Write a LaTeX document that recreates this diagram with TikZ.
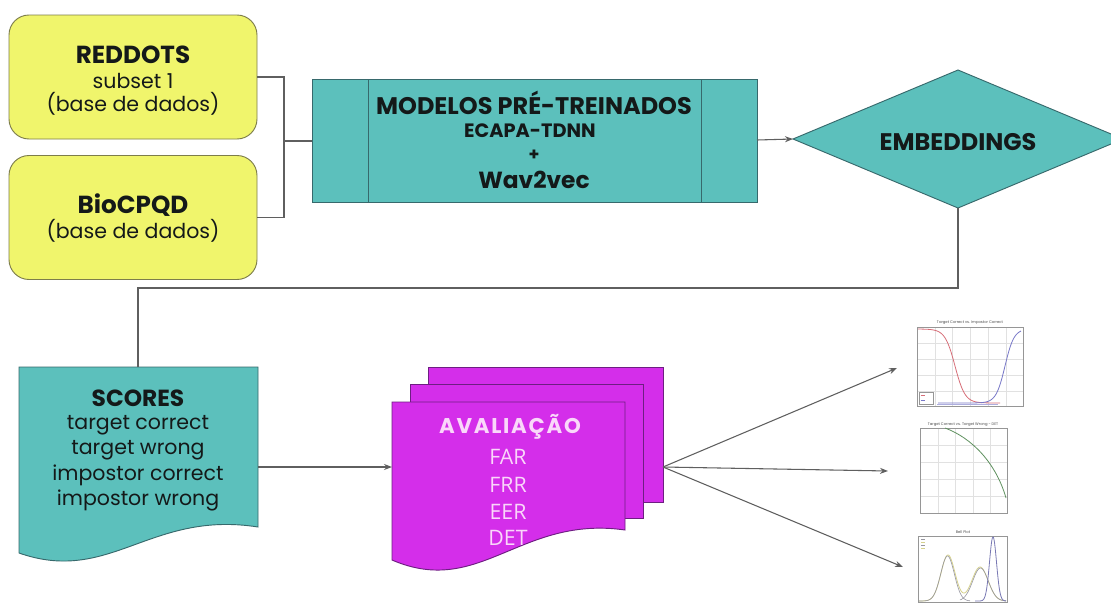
\documentclass[tikz,border=0pt]{standalone}
\usepackage{fontspec}
\setmainfont{Poppins}
\newfontfamily\lightfont{Open Sans}
\usetikzlibrary{shapes.geometric,arrows.meta,calc}

\definecolor{dbyellow}{RGB}{240,245,108}
\definecolor{dbedge}{RGB}{125,125,75}
\definecolor{tealfill}{RGB}{92,192,188}
\definecolor{tealedge}{RGB}{55,105,108}
\definecolor{magfill}{RGB}{212,46,234}
\definecolor{magedge}{RGB}{110,30,130}
\definecolor{magtext}{RGB}{250,215,250}
\definecolor{wirecol}{RGB}{95,95,95}
\definecolor{inkcol}{RGB}{20,25,25}
\definecolor{gridcol}{RGB}{225,225,225}
\definecolor{framecol}{RGB}{150,150,150}
\definecolor{curvered}{RGB}{215,110,120}
\definecolor{curveblue}{RGB}{120,120,200}
\definecolor{curvegreen}{RGB}{95,145,95}
\definecolor{curvegray}{RGB}{150,150,160}
\definecolor{curveyellow}{RGB}{215,210,140}

\begin{document}
\begin{tikzpicture}[x=0.75pt,y=-0.75pt,
  every node/.style={inner sep=0pt, outer sep=0pt},
  dbbox/.style={draw=dbedge, fill=dbyellow, line width=0.7pt, rounded corners=15pt,
                minimum width=186pt, minimum height=93pt},
  procbox/.style={draw=tealedge, fill=tealfill, line width=0.7pt,
                  minimum width=333.75pt, minimum height=92.25pt},
  decision/.style={diamond, aspect=2.4, draw=tealedge, fill=tealfill, line width=0.7pt,
                   minimum width=247.5pt, minimum height=103.5pt},
  tealdoc/.style={draw=tealedge, fill=tealfill, line width=0.7pt},
  magdoc/.style={draw=magedge, fill=magfill, line width=0.7pt},
  wire/.style={draw=wirecol, line width=0.8pt},
  flow/.style={wire, -{Stealth[length=6pt,width=4.5pt]}},
  headtxt/.style={text=inkcol, font=\bfseries\fontsize{17.5}{20}\selectfont},
  bodytxt/.style={text=inkcol, font=\fontsize{15.4}{19}\selectfont},
  maghead/.style={text=magtext, font=\bfseries\fontsize{16}{19}\selectfont\addfontfeatures{LetterSpace=8}},
  magbody/.style={text=magtext, font=\lightfont\fontsize{16}{19}\selectfont},
  charttitle/.style={text=gray!60!black, font=\fontsize{2.8}{3}\selectfont},
  plotframe/.style={draw=framecol, line width=0.35pt},
  plotgrid/.style={draw=gridcol, line width=0.3pt},
  plotcurve/.style={line width=0.6pt}
]
\useasboundingbox (0,0) rectangle (1111,603);
\clip (0,0) rectangle (1111,603);
\fill[white] (0,0) rectangle (1111,603);

% ---------- data sources ----------
\node[dbbox] (reddots) at (133,77) {};
\node[headtxt, font=\bfseries\fontsize{18.5}{21}\selectfont] (reddotsName) at (133,55) {REDDOTS};
\node[bodytxt] (reddotsSub) at (133,81) {subset 1};
\node[bodytxt] (reddotsKind) at (133,104) {(base de dados)};

\node[dbbox] (biocpqd) at (133,217.5) {};
\node[headtxt, font=\bfseries\fontsize{18.5}{21}\selectfont] (biocpqdName) at (133,205) {BioCPQD};
\node[bodytxt] (biocpqdKind) at (133,231) {(base de dados)};

% ---------- pre-trained models (predefined process) ----------
\node[procbox] (models) at (534.5,140.5) {};
\draw[tealedge, line width=0.7pt] ($(models.north west)+(56,0)$) -- ($(models.south west)+(56,0)$);
\draw[tealedge, line width=0.7pt] ($(models.north east)+(-56,0)$) -- ($(models.south east)+(-56,0)$);
\node[text=inkcol, font=\bfseries\fontsize{18}{21}\selectfont] (modelsTitle) at (534,103) {MODELOS PRÉ-TREINADOS};
\node[text=inkcol, font=\bfseries\fontsize{14.5}{17}\selectfont] (modelsEcapa) at (530,131) {ECAPA-TDNN};
\node[text=inkcol, font=\bfseries\fontsize{13}{15}\selectfont] (modelsPlus) at (534,155) {+};
\node[text=inkcol, font=\bfseries\fontsize{17.5}{20}\selectfont] (modelsWav) at (534,180) {Wav2vec};

% ---------- embeddings ----------
\node[decision] (emb) at (958,139) {};
\node[headtxt, font=\bfseries\fontsize{18}{21}\selectfont] (embText) at (958,142) {EMBEDDINGS};

% ---------- scores (document) ----------
\coordinate (scoresTop) at (138,367);
\coordinate (scoresRight) at (258,467);
\path[tealdoc] (19,367) -- (258,367) -- (258,527)
  .. controls (150,510) and (110,585) .. (19,553) -- cycle;
\node[headtxt] (scoresName) at (138,398) {SCORES};
\node[bodytxt] (scoresA) at (138,425) {target correct};
\node[bodytxt] (scoresB) at (138,450) {target wrong};
\node[bodytxt] (scoresC) at (138,475) {impostor correct};
\node[bodytxt] (scoresD) at (138,500) {impostor wrong};

% ---------- evaluation (multi-document) ----------
\path[magdoc] (428,367) rectangle (663,502);
\path[magdoc] (410,384) rectangle (643,518);
\path[magdoc] (392,402) -- (625,402) -- (625,530)
  .. controls (520,515) and (480,598) .. (392,560) -- cycle;
\coordinate (evalLeft) at (392,467);
\coordinate (evalRight) at (663,467);
\node[maghead] (evalTitle) at (510,427) {AVALIAÇÃO};
\node[magbody] (evalFar) at (508,457) {FAR};
\node[magbody] (evalFrr) at (508,485) {FRR};
\node[magbody] (evalEer) at (508,512) {EER};
\node[magbody] (evalDet) at (508,538) {DET};

% ---------- connectors ----------
\draw[wire] (reddots.east) -- (284,77) -- (284,217.5) -- (biocpqd.east);
\draw[wire] (284,141) -- (models.west |- 0,141);
\draw[flow] (models.east |- 0,140) -- (emb.west);
\draw[wire] (emb.south) -- (958,288) -| (scoresTop);
\draw[flow] (scoresRight) -- (evalLeft);

% ---------- result charts ----------
% chart 1: score curves
\coordinate (chartA) at (897,368);
\foreach \gx in {935,952,970,988,1006} \draw[plotgrid] (\gx,327) -- (\gx,406);
\foreach \gy in {343,359,375,391} \draw[plotgrid] (917,\gy) -- (1023,\gy);
\draw[plotframe] (917,327) rectangle (1023,406);
\node[charttitle] (chartAtitle) at (970,322.5) {Target Correct vs. Impostor Correct};
\draw[plotcurve, curvered] plot[domain=918:1000, samples=70]
  (\x, {329 + 74/(1+exp(-(\x-955)/5))});
\draw[plotcurve, curveblue] plot[domain=938:1021, samples=70]
  (\x, {329 + 74/(1+exp((\x-1005)/4.5))});
\draw[curveblue!60, line width=0.5pt] (937,404.5) -- (998,404.5);
\draw[framecol, line width=0.25pt, fill=white] (919,392) rectangle (933,404);
\draw[curvered, line width=0.4pt] (920.5,395.5) -- (925,395.5);
\draw[curveblue, line width=0.4pt] (920.5,400.5) -- (925,400.5);

% chart 2: DET curve
\coordinate (chartB) at (888,471);
\foreach \gx in {938,955,973,990} \draw[plotgrid] (\gx,428) -- (\gx,513);
\foreach \gy in {445,462,479,496} \draw[plotgrid] (920,\gy) -- (1007,\gy);
\draw[plotframe] (920,428) rectangle (1007,513);
\node[charttitle] (chartBtitle) at (963,425) {Target Correct vs. Target Wrong - DET};
\draw[plotcurve, curvegreen] (945,428) .. controls (972,438) and (996,463) .. (1006,498);

% chart 3: score distributions
\coordinate (chartC) at (903,567);
\draw[plotframe] (918,536) rectangle (1007,602);
\node[charttitle] (chartCtitle) at (963,532.5) {Bell Plot};
\draw[plotcurve, curveyellow] plot[domain=919:1006, samples=120]
  (\x, {601 - 46*exp(-((\x-948)/7)^2/2) - 34*exp(-((\x-980)/8)^2/2)});
\draw[plotcurve, curvegray, line width=0.45pt] plot[domain=919:970, samples=80]
  (\x, {601 - 45*exp(-((\x-947.5)/6.8)^2/2)});
\draw[plotcurve, curvegray, line width=0.45pt] plot[domain=960:1006, samples=80]
  (\x, {601 - 33*exp(-((\x-980.5)/7.8)^2/2)});
\draw[plotcurve, curvegray!80!blue] plot[domain=975:1006, samples=80]
  (\x, {601 - 64*exp(-((\x-993)/3.5)^2/2)});
\foreach \ly/\lc in {539/curvegray,542/curveyellow,545/curvegray,548/curveyellow}
  \draw[\lc, line width=0.4pt] (921,\ly) -- (925,\ly);

% ---------- arrows to charts ----------
\draw[flow] (evalRight) -- (chartA);
\draw[flow] (evalRight) -- (chartB);
\draw[flow] (evalRight) -- (chartC);
\end{tikzpicture}
\end{document}
